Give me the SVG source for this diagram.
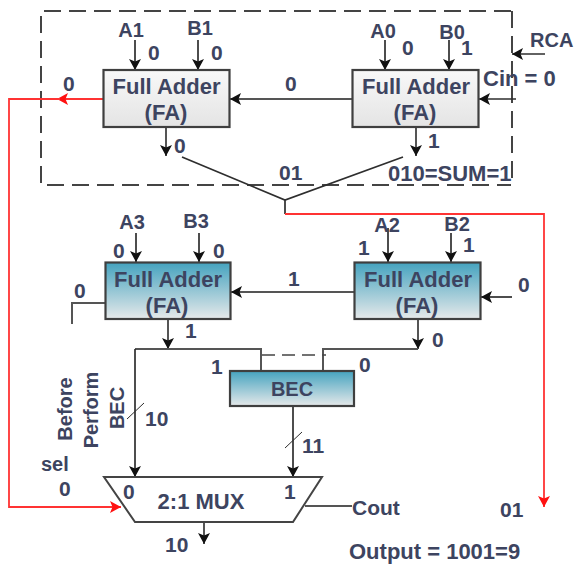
<svg xmlns="http://www.w3.org/2000/svg" width="574" height="565" viewBox="0 0 574 565">
<style>
text{font-family:"Liberation Sans",Arial,sans-serif;fill:#3d4460;font-size:20px}
.b{font-weight:bold}
.m{text-anchor:middle}
.f{font-size:22px;font-weight:bold;text-anchor:middle}
.l{font-size:22px;font-weight:bold}
.n{font-size:21px;font-weight:bold}
.box{stroke:#3f3f3f;stroke-width:2.2}
.w{fill:none;stroke:#2e2e2e;stroke-width:1.7}
.g{fill:none;stroke:#555;stroke-width:2}
.r{fill:none;stroke:#f33;stroke-width:1.8}
.d{fill:none;stroke:#444;stroke-width:2;stroke-dasharray:17 8}
</style>
<defs>
<linearGradient id="gw" x1="0" y1="0" x2="0" y2="1"><stop offset="0" stop-color="#f8f8f8"/><stop offset="1" stop-color="#e4e4e4"/></linearGradient>
<linearGradient id="gb" x1="0" y1="0" x2="0" y2="1"><stop offset="0" stop-color="#45a3bf"/><stop offset="1" stop-color="#e6e9ea"/></linearGradient>
<marker id="a" markerUnits="userSpaceOnUse" markerWidth="12" markerHeight="12" refX="11" refY="6" orient="auto"><path d="M0 0L11 6L0 12L2.500 6Z" fill="#111"/></marker>
<marker id="ar" markerUnits="userSpaceOnUse" markerWidth="12" markerHeight="12" refX="11" refY="6" orient="auto"><path d="M0 0L11 6L0 12L2.500 6Z" fill="#f11"/></marker>
</defs>
<g id="rca-boundary"><path class="d" d="M511 11H41V185H511"/><path class="d" d="M512 11V185"/></g>
<g id="connectors">
<path class="w" d="M135 40V70" marker-end="url(#a)"/><path class="w" d="M198 40V70" marker-end="url(#a)"/><path class="w" d="M385 40V70" marker-end="url(#a)"/><path class="w" d="M449 40V70" marker-end="url(#a)"/>
<path class="g" d="M352 99H230" marker-end="url(#a)"/>
<path class="w" d="M516 99H479" marker-end="url(#a)"/>
<path class="w" d="M545 54H512" marker-end="url(#a)"/>
<path class="r" d="M103 99H57" marker-end="url(#ar)"/>
<path class="r" d="M60 99H9V507H121" marker-end="url(#ar)"/>
<path class="g" d="M166 127V156" marker-end="url(#a)"/>
<path class="g" d="M416 127V156" marker-end="url(#a)"/>
<path class="w" d="M182 157L285 200L403 157M285 200V214"/>
<path class="r" d="M285 214H544V507" marker-end="url(#ar)"/>
<path class="w" d="M136 233V262" marker-end="url(#a)"/><path class="w" d="M199 233V262" marker-end="url(#a)"/><path class="w" d="M388 228V262" marker-end="url(#a)"/><path class="w" d="M451 233V262" marker-end="url(#a)"/>
<path class="g" d="M354 292H231" marker-end="url(#a)"/>
<path class="w" d="M512 297H481" marker-end="url(#a)"/>
<path class="g" d="M105 303H72V324"/>
<path class="g" d="M168 319V349" marker-end="url(#a)"/>
<path class="g" d="M418 319V349" marker-end="url(#a)"/>
<path class="g" d="M135 349H261V371M418 349H323V371"/>
<path class="d" style="stroke-width:1.500;stroke-dasharray:13 7" d="M262 355H326"/>
<path class="w" d="M135 349V477" marker-end="url(#a)"/>
<path class="w" d="M293 406V477" marker-end="url(#a)"/>
<path class="w" style="stroke-width:1" d="M127 419L144 403M285 448L302 432"/>
<path class="g" d="M305 506H352"/>
<path class="g" d="M204 522V544" marker-end="url(#a)"/>
</g>
<g id="fa1"><rect class="box" x="103.500" y="70" width="126" height="57" fill="url(#gw)"/><text class="f" x="166.500" y="94">Full Adder</text><text class="f" x="166" y="120">(FA)</text></g>
<g id="fa0"><rect class="box" x="352.500" y="70" width="126" height="57" fill="url(#gw)"/><text class="f" x="416" y="94">Full Adder</text><text class="f" x="415" y="120">(FA)</text></g>
<g id="fa3"><rect class="box" x="105.500" y="262.500" width="125" height="56.500" fill="url(#gb)"/><text class="f" x="168" y="287">Full Adder</text><text class="f" x="167" y="313">(FA)</text></g>
<g id="fa2"><rect class="box" x="354.500" y="262.500" width="126" height="56.500" fill="url(#gb)"/><text class="f" x="418" y="287">Full Adder</text><text class="f" x="417" y="313">(FA)</text></g>
<g id="bec"><rect class="box" x="230" y="371" width="124" height="35" fill="url(#gb)"/><text class="b m" x="292" y="396">BEC</text></g>
<g id="mux"><path d="M104 477H322L293 522H135Z" fill="#fff" stroke="#444" stroke-width="2"/><text class="f" x="201" y="509">2:1 MUX</text><text class="n" x="123" y="499">0</text><text class="n" x="284" y="499">1</text></g>
<g id="labels">
<text class="b m" x="131" y="37">A1</text><text class="b m" x="200" y="35">B1</text><text class="b m" x="383" y="38">A0</text><text class="b m" x="452" y="39">B0</text>
<text class="n" x="148" y="60">0</text><text class="n" x="211" y="60">0</text><text class="n" x="402" y="55">0</text><text class="n" x="461" y="55">1</text>
<text class="n" x="63" y="91">0</text><text class="n" x="285" y="91">0</text><text class="n" x="174" y="153">0</text><text class="n" x="428" y="148">1</text>
<text class="b" x="530" y="47">RCA</text><text class="l" x="483" y="86">Cin = 0</text>
<text class="n" x="279" y="180">01</text><text class="l" x="388" y="181">010=SUM=1</text>
<text class="b m" x="132" y="229">A3</text><text class="b m" x="196" y="228">B3</text><text class="b m" x="387" y="232">A2</text><text class="b m" x="457" y="231">B2</text>
<text class="n" x="113" y="258">0</text><text class="n" x="213" y="258">0</text><text class="n" x="358" y="255">1</text><text class="n" x="463" y="252">1</text>
<text class="n" x="288" y="286">1</text><text class="n" x="518" y="292">0</text><text class="n" x="74" y="298">0</text>
<text class="n" x="185" y="338">1</text><text class="n" x="211" y="374">1</text><text class="n" x="432" y="347">0</text><text class="n" x="359" y="372">0</text>
<text class="n" x="145" y="426">10</text><text class="n" x="302" y="453">11</text>
<text class="b" x="41" y="471">sel</text><text class="n" x="59" y="496">0</text>
<text class="b m" transform="translate(72 409) rotate(-90)">Before</text><text class="b m" transform="translate(98 410) rotate(-90)">Perform</text><text class="b m" transform="translate(124 408) rotate(-90)">BEC</text>
<text class="b" style="font-size:21px" x="352" y="515">Cout</text><text class="n" x="500" y="517">01</text>
<text class="n" x="165" y="552">10</text><text class="l" x="349" y="559">Output = 1001=9</text>
</g>
</svg>
